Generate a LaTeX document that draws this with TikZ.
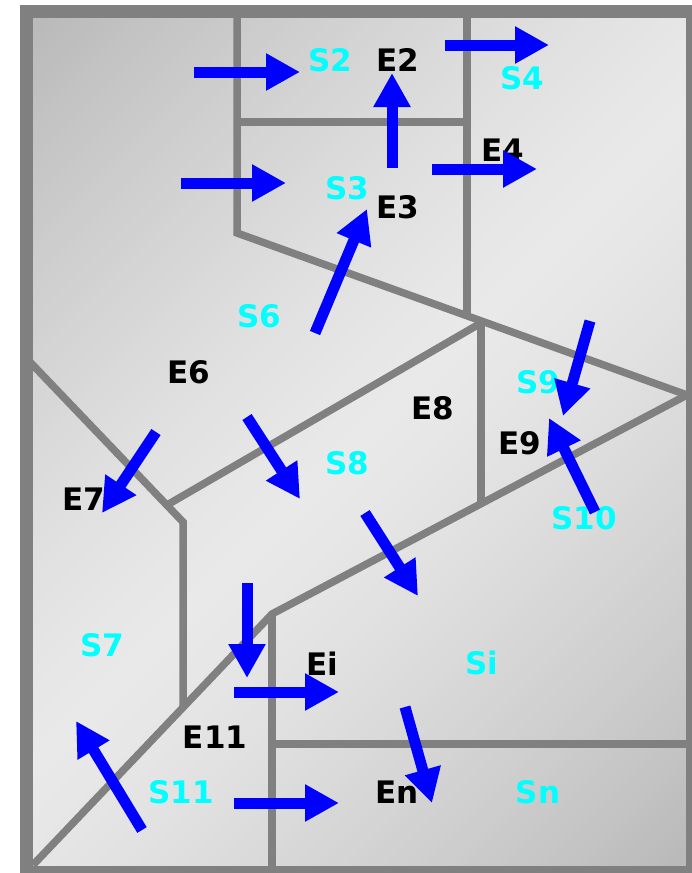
\documentclass[tikz,border=0pt]{standalone}
\usepackage{fontspec}
\setmainfont{DejaVu Sans}
\usetikzlibrary{arrows.meta}
\definecolor{wallgray}{HTML}{808080}
\definecolor{flowblue}{HTML}{0000FF}
\definecolor{scyan}{HTML}{00FFFF}
\definecolor{bgdark}{HTML}{BABABA}
\definecolor{bglight}{HTML}{E9E9E9}
\tikzset{
  wall/.style={draw=wallgray, line width=7.5pt, line join=miter},
  flow/.style={draw=flowblue, line width=11pt, -{Triangle[width=35pt,length=34pt]}},
  elab/.style={text=black, font=\fontsize{31}{31}\selectfont\bfseries, inner sep=0pt},
  slab/.style={text=scyan, font=\fontsize{31}{31}\selectfont\bfseries, inner sep=0pt},
}
\begin{document}
\begin{tikzpicture}[x=1pt,y=-1pt]
\useasboundingbox (0,0) rectangle (692,873);
\clip (0,0) rectangle (692,873);
% background: diagonal gradient, dark at top-left and bottom-right
\begin{scope}
\clip (26,11) rectangle (692,873);
\foreach \c in {0,10,...,1600} {
  \pgfmathsetmacro\p{100*min(1,abs(\c+5-800)/740)^1.3}
  \fill[bgdark!\p!bglight] (\c,0) -- (\c+11,0) -- (\c+11-1000,1000) -- (\c-1000,1000) -- cycle;
}
\end{scope}
% walls
\coordinate (tA) at (237,17);
\coordinate (tB) at (237,233);
\coordinate (rA) at (687,395);
\coordinate (j1) at (481,323);
\coordinate (h1) at (237,122);
\coordinate (h2) at (467,122);
\coordinate (v1) at (467,17);
\coordinate (v2) at (467,315);
\coordinate (j2) at (167,505);
\coordinate (j3) at (481,503);
\coordinate (m1) at (272,614);
\coordinate (bl) at (33,865);
\coordinate (m2) at (272,870);
\coordinate (hh1) at (272,744);
\coordinate (hh2) at (690,744);
\coordinate (l1) at (30,362);
\coordinate (l2) at (183,522);
\coordinate (l3) at (183,706);
\draw[wall] (tA) -- (tB) -- (rA);
\draw[wall] (h1) -- (h2);
\draw[wall] (v1) -- (v2);
\draw[wall] (j1) -- (j2);
\draw[wall] (j1) -- (j3);
\draw[wall] (rA) -- (m1) -- (bl);
\draw[wall] (m1) -- (m2);
\draw[wall] (hh1) -- (hh2);
\draw[wall] (l1) -- (l2) -- (l3);
% frame
\draw[draw=wallgray, line width=13pt] (26,11) rectangle (692,872);
% labels
\node[slab] (S2) at (330,60) {S2};
\node[elab] (E2) at (398,60) {E2};
\node[slab] (S4) at (522,78) {S4};
\node[elab] (E4) at (503,150) {E4};
\node[slab] (S3) at (347,188) {S3};
\node[elab] (E3) at (398,207) {E3};
\node[slab] (S6) at (259,316) {S6};
\node[elab] (E6) at (189,372) {E6};
\node[elab] (E7) at (84,499) {E7};
\node[slab] (S8) at (347,463) {S8};
\node[elab] (E8) at (433,408) {E8};
\node[slab] (S9) at (538,382) {S9};
\node[elab] (E9) at (520,443) {E9};
\node[slab] (S10) at (584,518) {S10};
\node[slab] (Si) at (482,663) {Si};
\node[slab] (S7) at (102,645) {S7};
\node[elab] (Ei) at (322,664) {Ei};
\node[elab] (E11) at (215,737) {E11};
\node[slab] (S11) at (181,792) {S11};
\node[elab] (En) at (397,792) {En};
\node[slab] (Sn) at (538,792) {Sn};
% arrow end points
\coordinate (a1s) at (194,72);  \coordinate (a1e) at (300,72);
\coordinate (a2s) at (181,183); \coordinate (a2e) at (286,183);
\coordinate (a3s) at (392,168); \coordinate (a3e) at (392,73);
\coordinate (a4s) at (445,45);  \coordinate (a4e) at (549,45);
\coordinate (a5s) at (432,169); \coordinate (a5e) at (537,169);
\coordinate (a6s) at (315,333); \coordinate (a6e) at (367,209);
\coordinate (a7s) at (156,432); \coordinate (a7e) at (102,513);
\coordinate (a8s) at (247,417); \coordinate (a8e) at (300,499);
\coordinate (a9s) at (365,513); \coordinate (a9e) at (418,596);
\coordinate (a10s) at (590,321); \coordinate (a10e) at (563,416);
\coordinate (a11s) at (595,512); \coordinate (a11e) at (549,418);
\coordinate (a12s) at (247,583); \coordinate (a12e) at (247,678);
\coordinate (a13s) at (234,692); \coordinate (a13e) at (339,692);
\coordinate (a14s) at (142,830); \coordinate (a14e) at (76,721);
\coordinate (a15s) at (234,803); \coordinate (a15e) at (339,803);
\coordinate (a16s) at (405,707); \coordinate (a16e) at (432,803);
% arrows
\foreach \k in {1,...,16} { \draw[flow] (a\k s) -- (a\k e); }
\end{tikzpicture}
\end{document}
